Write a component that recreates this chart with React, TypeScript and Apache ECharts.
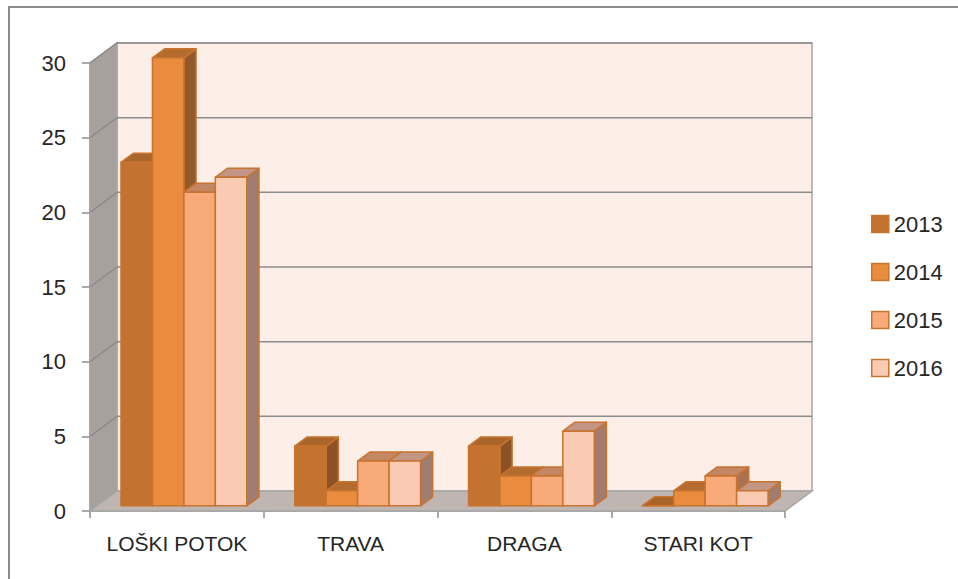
import React, { useEffect, useRef } from "react";
import * as echarts from "echarts";

const categories = ["LOŠKI POTOK", "TRAVA", "DRAGA", "STARI KOT"];
const years = ["2013", "2014", "2015", "2016"];
const values2013 = [23, 4, 4, 0];
const values2014 = [30, 1, 2, 1];
const values2015 = [21, 3, 2, 2];
const values2016 = [22, 3, 5, 1];
const yTicks = [0, 5, 10, 15, 20, 25, 30];

const seriesValues = [values2013, values2014, values2015, values2016];
const frontColors = ["#C3722F", "#E98C3E", "#F9AA79", "#FBCAB3"];
const sideColors = ["#8C5226", "#94592A", "#A87252", "#A07D70"];
const topColors = ["#A9652A", "#B46C2E", "#C48763", "#C29584"];
const barStroke = "#C8732F";

const DX = 27;
const DY = -20;

export default function App() {
  const ref = useRef<HTMLDivElement>(null);
  useEffect(() => {
    if (!ref.current) return;
    const chart = echarts.init(ref.current, null, { renderer: "svg" });

    const wallsSeries = {
      type: "custom",
      name: "walls",
      z: 1,
      clip: false,
      silent: true,
      data: [[0, 0]],
      renderItem: (params: any, api: any) => {
        const cs = params.coordSys;
        const x0 = cs.x;
        const x1 = cs.x + cs.width;
        const yT = cs.y;
        const yB = cs.y + cs.height;
        const children: any[] = [];
        children.push({
          type: "rect",
          shape: { x: x0 + DX, y: yT + DY, width: x1 - x0, height: yB - yT },
          style: { fill: "#FDEEE7", stroke: "#A6A6A6", lineWidth: 1.5 },
        });
        children.push({
          type: "polygon",
          shape: { points: [[x0, yB], [x0, yT], [x0 + DX, yT + DY], [x0 + DX, yB + DY]] },
          style: { fill: "#A7A09C", stroke: "#A6A6A6", lineWidth: 1.5 },
        });
        children.push({
          type: "polygon",
          shape: { points: [[x0, yB], [x1, yB], [x1 + DX, yB + DY], [x0 + DX, yB + DY]] },
          style: { fill: "#BFB6B1", stroke: "#A6A6A6", lineWidth: 1.5 },
        });
        yTicks.forEach((t) => {
          if (t === 0) return;
          const y = api.coord([0, t])[1];
          children.push({
            type: "polyline",
            shape: { points: [[x0, y], [x0 + DX, y + DY], [x1 + DX, y + DY]] },
            style: { fill: null, stroke: "#8C8C8C", lineWidth: 1.5 },
          });
        });
        return { type: "group", children };
      },
    };

    const barSeries = years.map((yr, k) => ({
      type: "custom",
      name: yr,
      z: 3,
      clip: false,
      itemStyle: { color: frontColors[k], borderColor: barStroke, borderWidth: 1.5 },
      encode: { x: 0, y: 1 },
      data: seriesValues[k].map((v, i) => [i, v]),
      renderItem: (params: any, api: any) => {
        const cat = api.value(0);
        const v = api.value(1);
        const base = api.coord([cat, 0]);
        const top = api.coord([cat, v]);
        const band = api.size([1, 0])[0];
        const bw = band * 0.181;
        const fx = DX * 0.26;
        const fy = DY * 0.26;
        const ddx = DX * 0.45;
        const ddy = DY * 0.45;
        const left = base[0] - 2 * bw + fx;
        const xa = left + k * bw;
        const xb = xa + bw;
        const yb = base[1] + fy;
        const yt = top[1] + fy;
        const st = { stroke: barStroke, lineWidth: 1.5, lineJoin: "round" };
        return {
          type: "group",
          children: [
            {
              type: "polygon",
              shape: { points: [[xb, yb], [xb, yt], [xb + ddx, yt + ddy], [xb + ddx, yb + ddy]] },
              style: { fill: sideColors[k], ...st },
            },
            {
              type: "polygon",
              shape: { points: [[xa, yt], [xb, yt], [xb + ddx, yt + ddy], [xa + ddx, yt + ddy]] },
              style: { fill: topColors[k], ...st },
            },
            {
              type: "rect",
              shape: { x: xa, y: yt, width: bw, height: Math.max(0, yb - yt) },
              style: { fill: frontColors[k], ...st },
            },
          ],
        };
      },
    }));

    chart.setOption({
      animation: false,
      backgroundColor: "#FFFFFF",
      textStyle: { fontFamily: "Liberation Sans" },
      graphic: [
        {
          type: "rect",
          shape: { x: 9, y: 7, width: 1000, height: 700 },
          style: { fill: null, stroke: "#8C8C8C", lineWidth: 2 },
          z: 0,
        },
      ],
      grid: { left: 90, right: 173, top: 63, bottom: 68 },
      legend: {
        orient: "vertical",
        left: 866,
        top: 208,
        itemWidth: 17,
        itemHeight: 17,
        itemGap: 26,
        icon: "rect",
        textStyle: { fontSize: 22, lineHeight: 22, color: "#262626", fontFamily: "Liberation Sans" },
        data: years.map((yr, k) => ({
          name: yr,
          itemStyle: { color: frontColors[k], borderColor: barStroke, borderWidth: 1.5 },
        })),
      },
      xAxis: {
        type: "category",
        data: categories,
        axisLine: { show: true, lineStyle: { color: "#8C8C8C", width: 1.5 } },
        axisTick: { show: true, length: 7, lineStyle: { color: "#8C8C8C", width: 1.5 } },
        axisLabel: { fontSize: 21, color: "#262626", margin: 22, interval: 0, hideOverlap: false },
        splitLine: { show: false },
      },
      yAxis: {
        type: "value",
        min: 0,
        max: 30,
        interval: 5,
        axisLine: { show: true, lineStyle: { color: "#8C8C8C", width: 1.5 } },
        axisTick: { show: true, length: 8, lineStyle: { color: "#8C8C8C", width: 1.5 } },
        axisLabel: { fontSize: 22, color: "#262626", margin: 24 },
        splitLine: { show: false },
      },
      series: [wallsSeries, ...barSeries],
    });

    return () => chart.dispose();
  }, []);

  return (
    <div
      ref={ref}
      style={{ position: "fixed", left: 0, top: 0, width: 958, height: 579 }}
    />
  );
}
